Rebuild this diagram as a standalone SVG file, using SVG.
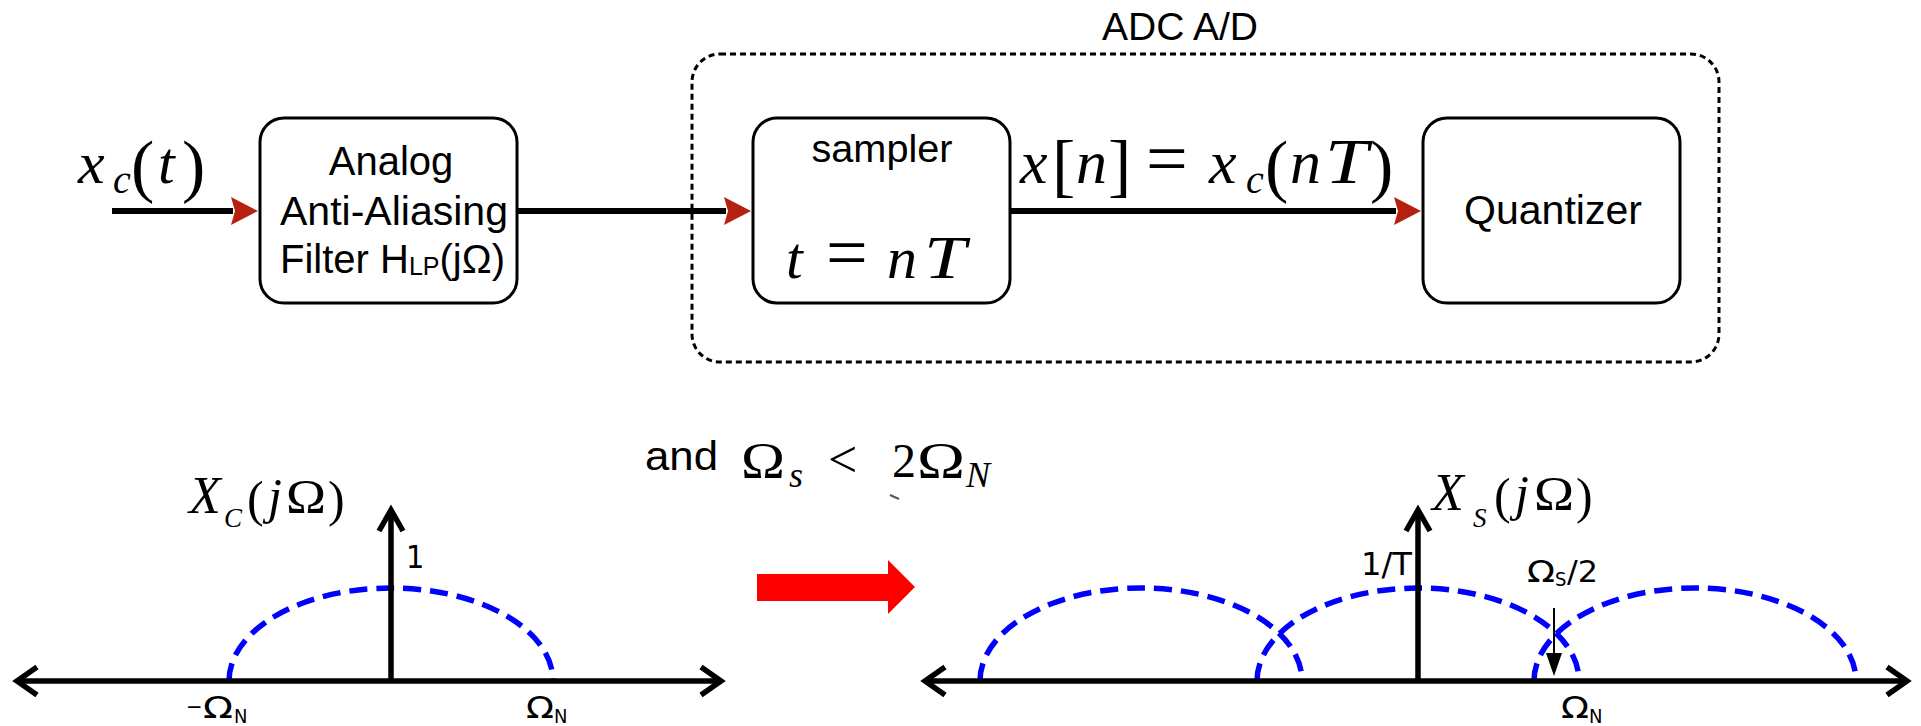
<svg xmlns="http://www.w3.org/2000/svg" width="1921" height="726" viewBox="0 0 1921 726">
<style>
.box{fill:#fff;stroke:#000;stroke-width:3}
.adc{fill:none;stroke:#000;stroke-width:3;stroke-dasharray:6 4}
.wire{stroke:#000;stroke-width:6;fill:none}
.axis{stroke:#000;stroke-width:5.5;fill:none;stroke-linejoin:miter}
.spec{fill:none;stroke:#0000ff;stroke-width:5.5;stroke-dasharray:18 9}
.sans{font-family:"Liberation Sans",Arial,sans-serif;fill:#000}
.math{font-family:"Liberation Serif","Times New Roman",serif;fill:#000}
.it{font-style:italic}
.lab{font-family:"DejaVu Sans","Liberation Sans",sans-serif;font-stretch:condensed;fill:#000}
</style>
<defs>
<marker id="red" viewBox="0 0 28 28" markerWidth="28" markerHeight="28" markerUnits="userSpaceOnUse" refX="2" refY="14" orient="auto">
<path d="M0,0 L27,14 L0,28 L4,14 Z" fill="#b5210f"/>
</marker>
</defs>
<rect width="1921" height="726" fill="#fff"/>

<g id="adc-group">
<rect class="adc" x="692" y="54" width="1027" height="308" rx="28"/>
<text class="sans" x="1180" y="40" font-size="39" text-anchor="middle">ADC A/D</text>
</g>

<g id="filter">
<rect class="box" x="260" y="118" width="257" height="185" rx="24"/>
<text class="sans" x="391" y="175" font-size="40" text-anchor="middle">Analog</text>
<text class="sans" x="394" y="225" font-size="40" text-anchor="middle" textLength="228" lengthAdjust="spacingAndGlyphs">Anti-Aliasing</text>
<text class="sans" x="280" y="273" font-size="40" textLength="225" lengthAdjust="spacingAndGlyphs">Filter H<tspan font-size="25" dy="2">LP</tspan><tspan dy="-2">(jΩ)</tspan></text>
</g>

<g id="sampler">
<rect class="box" x="753" y="118" width="257" height="185" rx="24"/>
<text class="sans" x="882" y="162" font-size="38" text-anchor="middle" textLength="141" lengthAdjust="spacingAndGlyphs">sampler</text>
<text class="math it" x="786" y="278" font-size="60">t</text>
<text class="math" x="826" y="277" font-size="74">=</text>
<text class="math it" x="887" y="278" font-size="60">n</text>
<text class="math it" x="924" y="278" font-size="62" textLength="42" lengthAdjust="spacingAndGlyphs">T</text>
</g>

<g id="quantizer">
<rect class="box" x="1423" y="118" width="257" height="185" rx="24"/>
<text class="sans" x="1553" y="224" font-size="40" text-anchor="middle" textLength="178" lengthAdjust="spacingAndGlyphs">Quantizer</text>
</g>

<g id="connectors">
<line class="wire" x1="112" y1="211" x2="233" y2="211" marker-end="url(#red)"/>
<line class="wire" x1="517" y1="211" x2="726" y2="211" marker-end="url(#red)"/>
<line class="wire" x1="1010" y1="211" x2="1396" y2="211" marker-end="url(#red)"/>
</g>

<g id="label-xct">
<text class="math" y="183"><tspan class="it" x="78" font-size="60">x</tspan><tspan class="it" x="113" y="193" font-size="40">c</tspan><tspan x="131" y="189" font-size="70">(</tspan><tspan class="it" x="158" y="183" font-size="60">t</tspan><tspan x="182" y="189" font-size="70">)</tspan></text>
</g>

<g id="label-xn">
<text class="math" y="183"><tspan class="it" x="1020" font-size="62">x</tspan><tspan x="1052" y="189" font-size="70">[</tspan><tspan class="it" x="1076" y="183" font-size="62">n</tspan><tspan x="1108" y="189" font-size="70">]</tspan><tspan x="1146" y="183" font-size="74">=</tspan><tspan class="it" x="1209" font-size="62">x</tspan><tspan class="it" x="1246" y="193" font-size="40">c</tspan><tspan x="1265" y="189" font-size="70">(</tspan><tspan class="it" x="1290" y="183" font-size="62">n</tspan></text>
<text class="math it" x="1325" y="183" font-size="64" textLength="43" lengthAdjust="spacingAndGlyphs">T</text>
<text class="math" x="1370" y="189" font-size="70">)</text>
</g>

<g id="condition">
<text class="sans" x="645" y="470" font-size="40" textLength="73" lengthAdjust="spacingAndGlyphs">and</text>
<text class="math" x="741" y="477" font-size="50" textLength="44" lengthAdjust="spacingAndGlyphs">Ω</text>
<text class="math it" x="789" y="487" font-size="36">s</text>
<text class="math" x="828" y="477" font-size="52">&lt;</text>
<text class="math" x="892" y="477" font-size="48">2</text>
<text class="math" x="917" y="477" font-size="50" textLength="48" lengthAdjust="spacingAndGlyphs">Ω</text>
<text class="math it" x="966" y="487" font-size="36">N</text>
<line x1="890" y1="495" x2="899" y2="499" stroke="#555" stroke-width="2"/>
</g>

<g id="red-arrow">
<path d="M757,574 H888 V560 L915,587 L888,614 V601 H757 Z" fill="#ff0000"/>
</g>

<g id="plot-xc">
<path class="spec" d="M229,681 A162,93 0 0 1 553,681"/>
<line class="axis" x1="17" y1="681" x2="721" y2="681"/>
<polyline class="axis" points="37,667 17,681 37,695"/>
<polyline class="axis" points="701,667 721,681 701,695"/>
<line class="axis" x1="391" y1="681" x2="391" y2="510"/>
<polyline class="axis" points="379,531 391,510 403,531"/>
<text class="math it" x="189" y="513" font-size="52">X</text>
<text class="math it" x="224" y="527" font-size="27">C</text>
<text class="math" x="247" y="516" font-size="50">(</text>
<text class="math it" x="268" y="513" font-size="50">j</text>
<text class="math" x="286" y="513" font-size="48" textLength="40" lengthAdjust="spacingAndGlyphs">Ω</text>
<text class="math" x="328" y="516" font-size="50">)</text>
<text class="lab" x="406" y="568" font-size="32">1</text>
<text class="lab" x="186" y="714" font-size="22">−</text>
<text class="lab" x="203" y="718" font-size="30" textLength="30" lengthAdjust="spacingAndGlyphs">Ω</text>
<text class="lab" x="234" y="723" font-size="20">N</text>
<text class="lab" x="526" y="718" font-size="30" textLength="28" lengthAdjust="spacingAndGlyphs">Ω</text>
<text class="lab" x="554" y="723" font-size="20">N</text>
</g>

<g id="plot-xs">
<path class="spec" d="M980,681 A161,93 0 0 1 1302,681"/>
<path class="spec" d="M1257,681 A161,93 0 0 1 1579,681"/>
<path class="spec" d="M1534,681 A161,93 0 0 1 1856,681"/>
<line class="axis" x1="925" y1="681" x2="1907" y2="681"/>
<polyline class="axis" points="945,667 925,681 945,695"/>
<polyline class="axis" points="1887,667 1907,681 1887,695"/>
<line class="axis" x1="1418" y1="681" x2="1418" y2="510"/>
<polyline class="axis" points="1406,531 1418,510 1430,531"/>
<text class="math it" x="1432" y="510" font-size="52">X</text>
<text class="math it" x="1473" y="527" font-size="27">S</text>
<text class="math" x="1494" y="513" font-size="50">(</text>
<text class="math it" x="1515" y="510" font-size="50">j</text>
<text class="math" x="1534" y="510" font-size="48" textLength="40" lengthAdjust="spacingAndGlyphs">Ω</text>
<text class="math" x="1576" y="513" font-size="50">)</text>
<text class="lab" x="1361" y="575" font-size="32" textLength="51" lengthAdjust="spacingAndGlyphs">1/T</text>
<text class="lab" x="1527" y="582" font-size="30" textLength="28" lengthAdjust="spacingAndGlyphs">Ω</text>
<text class="lab" x="1555" y="586" font-size="20">S</text>
<text class="lab" x="1567" y="582" font-size="30" textLength="31" lengthAdjust="spacingAndGlyphs">/2</text>
<line x1="1554" y1="608" x2="1554" y2="656" stroke="#000" stroke-width="2"/>
<path d="M1546,653 L1562,653 L1554,676 Z" fill="#000"/>
<text class="lab" x="1561" y="718" font-size="30" textLength="28" lengthAdjust="spacingAndGlyphs">Ω</text>
<text class="lab" x="1589" y="723" font-size="20">N</text>
</g>
</svg>
